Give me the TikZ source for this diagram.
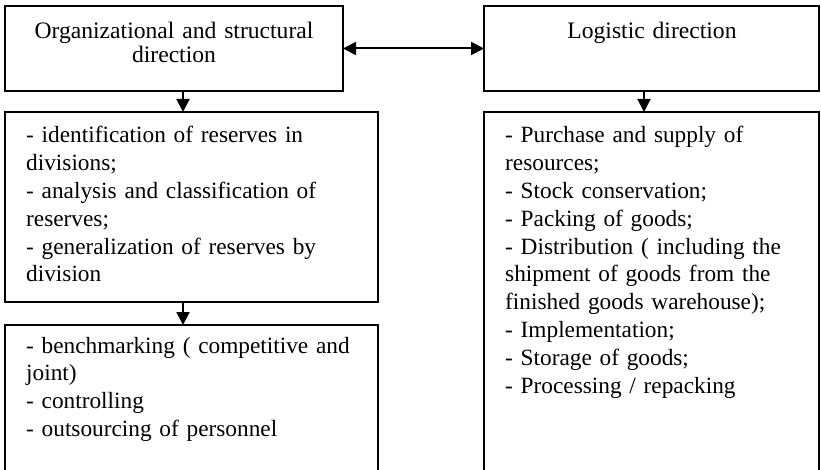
\documentclass[tikz,border=0pt]{standalone}
\usepackage{fontspec}
\setmainfont{Liberation Serif}
\usetikzlibrary{arrows.meta}
\begin{document}
\begin{tikzpicture}[x=1pt,y=-1pt,
  box/.style={draw, line width=2pt, anchor=north west, inner sep=0pt, outer sep=0pt},
  txt/.style={anchor=base west, inner sep=0pt, align=left, text width=345pt, font=\fontsize{23.3}{27.8}\selectfont},
  ttl/.style={anchor=base, inner sep=0pt, align=center, text width=320pt, font=\fontsize{23.6}{23.5}\selectfont},
  tip/.tip={Triangle[length=13pt,width=13pt]},
  arr/.style={line width=2pt, -tip},
  darr/.style={line width=2pt, tip-tip}]
\useasboundingbox (0,0) rectangle (821,470);
% boxes
\node[box, minimum width=338pt, minimum height=85pt] (A) at (5,6) {};
\node[box, minimum width=335pt, minimum height=85pt] (B) at (484,6) {};
\node[box, minimum width=373pt, minimum height=190pt] (C) at (5,112) {};
\node[box, minimum width=373pt, minimum height=160pt] (D) at (5,325) {};
\node[box, minimum width=335pt, minimum height=373pt] (E) at (484,112) {};
% texts
\node[ttl] (At) at (174,39) {Organizational and structural\\direction};
\node[ttl] (Bt) at (652,39) {Logistic direction};
\node[txt] (Ct) at (26,143) {- identification of reserves in\\divisions;\\- analysis and classification of\\reserves;\\- generalization of reserves by\\division};
\node[txt] (Dt) at (26,353) {- benchmarking ( competitive and\\joint)\\- controlling\\- outsourcing of personnel};
\node[txt, text width=305pt] (Et) at (505,143) {- Purchase and supply of\\resources;\\- Stock conservation;\\- Packing of goods;\\- Distribution ( including the\\shipment of goods from the\\finished goods warehouse);\\- Implementation;\\- Storage of goods;\\- Processing / repacking};
% connectors
\coordinate (lx) at (183,0);
\coordinate (rx) at (644,0);
\draw[darr] (A.east) -- (B.west);
\draw[arr] (A.south -| lx) -- (C.north -| lx);
\draw[arr] (C.south -| lx) -- (D.north -| lx);
\draw[arr] (B.south -| rx) -- (E.north -| rx);
\end{tikzpicture}
\end{document}
